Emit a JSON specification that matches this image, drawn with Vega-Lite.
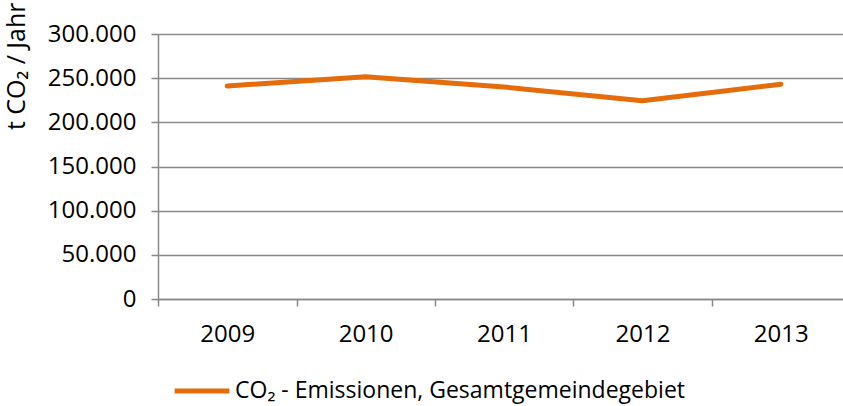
{
  "$schema": "https://vega.github.io/schema/vega-lite/v6.json",
  "width": 685,
  "height": 265,
  "autosize": "none",
  "padding": {"left": 158, "top": 34, "right": 0, "bottom": 107},
  "background": "white",
  "config": {
    "font": "Open Sans",
    "view": {"stroke": null},
    "axis": {"labelFont": "Open Sans", "titleFont": "Open Sans", "labelColor": "#000000", "titleColor": "#000000", "labelFontSize": 24, "titleFontSize": 25, "titleFontWeight": "normal", "domainColor": "#888888", "tickColor": "#888888", "gridColor": "#888888", "domainWidth": 1.5, "tickWidth": 1.5, "gridWidth": 1.5}
  },
  "data": {
    "values": [
      {"year": "2009", "value": 241100, "series": "CO₂ - Emissionen, Gesamtgemeindegebiet"},
      {"year": "2010", "value": 251700, "series": "CO₂ - Emissionen, Gesamtgemeindegebiet"},
      {"year": "2011", "value": 240000, "series": "CO₂ - Emissionen, Gesamtgemeindegebiet"},
      {"year": "2012", "value": 224500, "series": "CO₂ - Emissionen, Gesamtgemeindegebiet"},
      {"year": "2013", "value": 243100, "series": "CO₂ - Emissionen, Gesamtgemeindegebiet"}
    ]
  },
  "mark": {"type": "line", "strokeWidth": 5, "strokeCap": "round", "strokeJoin": "round"},
  "encoding": {
    "x": {
      "field": "year", "type": "ordinal",
      "scale": {"type": "band", "paddingInner": 0, "paddingOuter": 0, "range": [0, 692]},
      "axis": {"title": null, "labelAngle": 0, "tickOffset": -69, "labelOffset": 69, "tickSize": 7, "labelPadding": 16, "grid": false}
    },
    "y": {
      "field": "value", "type": "quantitative",
      "scale": {"domain": [0, 300000], "nice": false},
      "axis": {"values": [0, 50000, 100000, 150000, 200000, 250000, 300000], "labelExpr": "replace(format(datum.value, ',d'), /,/g, '.')", "tickSize": 7, "labelPadding": 15, "grid": true, "title": "t CO₂ / Jahr", "titleAngle": -90, "titleAlign": "right", "titleBaseline": "middle", "titleX": -142, "titleY": -32}
    },
    "color": {
      "field": "series", "type": "nominal",
      "scale": {"range": ["#E46C0A"]},
      "legend": {"title": null, "orient": "none", "legendX": 14, "legendY": 327, "symbolType": "stroke", "symbolSize": 3000, "symbolStrokeWidth": 5, "labelFont": "Open Sans", "labelFontSize": 23, "labelColor": "#000000", "labelOffset": 3, "labelLimit": 1000}
    }
  }
}
